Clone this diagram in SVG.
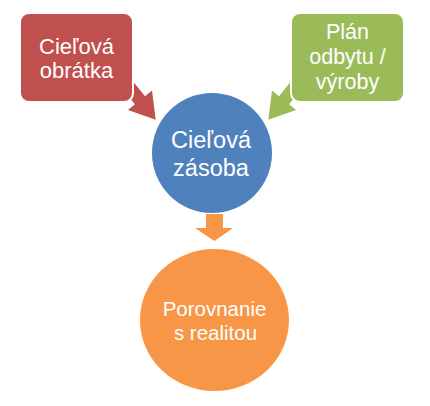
<svg xmlns="http://www.w3.org/2000/svg" width="430" height="406" viewBox="0 0 430 406">
  <defs>
    <style>
      .lbl { font-family: "Liberation Sans", Arial, sans-serif; fill: #FFFFFF; text-anchor: middle; }
      .box { stroke: #FFFFFF; stroke-width: 2; }
    </style>
    <path id="diagArrow" d="M0,0 L-25,-15.5 L-25,-6.5 L-50,-6.5 L-50,6.5 L-25,6.5 L-25,15.5 Z"/>
  </defs>
  <rect width="430" height="406" fill="#FFFFFF"/>

  <g id="connectors">
    <use href="#diagArrow" fill="#C0504D" transform="translate(155.7,119.7) rotate(51)"/>
    <use href="#diagArrow" fill="#9BBB59" transform="translate(268.3,119.7) rotate(129)"/>
    <path d="M206,214 L223,214 L223,228 L233,228 L214.5,241 L195,228 L206,228 Z" fill="#F79646"/>
  </g>

  <g id="node-cielova-obratka">
    <rect class="box" x="20" y="13" width="113" height="89" rx="9" ry="9" fill="#C0504D"/>
    <text class="lbl" font-size="22" x="76.5" y="53.5">Cieľová</text>
    <text class="lbl" font-size="22" x="76.5" y="77.5">obrátka</text>
  </g>

  <g id="node-plan">
    <rect class="box" x="291" y="13" width="113" height="89" rx="9" ry="9" fill="#9BBB59"/>
    <text class="lbl" font-size="21.5" x="347.5" y="39">Plán</text>
    <text class="lbl" font-size="21.5" x="347.5" y="64">odbytu /</text>
    <text class="lbl" font-size="21.5" x="347.5" y="89">výroby</text>
  </g>

  <g id="node-cielova-zasoba">
    <circle cx="212" cy="153" r="60" fill="#4F81BD"/>
    <text class="lbl" font-size="23.5" x="211" y="147.5">Cieľová</text>
    <text class="lbl" font-size="23.5" x="211" y="175.5">zásoba</text>
  </g>

  <g id="node-porovnanie">
    <ellipse cx="214.5" cy="320" rx="74.5" ry="71" fill="#F79646"/>
    <text class="lbl" font-size="20.5" x="214.5" y="315.5">Porovnanie</text>
    <text class="lbl" font-size="20.5" x="215.5" y="339.5">s realitou</text>
  </g>
</svg>
